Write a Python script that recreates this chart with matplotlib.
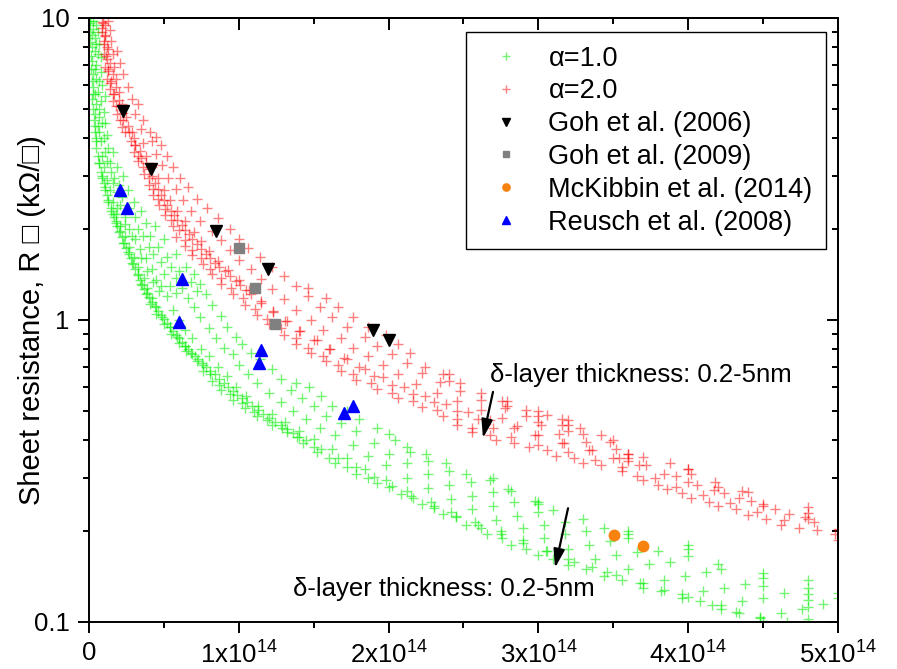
import numpy as np
import matplotlib
matplotlib.use("Agg")
import matplotlib.pyplot as plt
from matplotlib.ticker import MultipleLocator, FuncFormatter, LogLocator, NullFormatter

# -----------------------------------------------------------------------------
# Data (x in units of 1e14, sheet resistance in kOhm/sq)
# -----------------------------------------------------------------------------
X_UNIT = 1e14

alpha1_pts = [
    # near the top, steep part
    (0.01, 9.6), (0.03, 9.8), (0.05, 9.5), (0.02, 8.8), (0.04, 8.6), (0.06, 9.0),
    (0.02, 8.0), (0.04, 7.8), (0.07, 8.2), (0.02, 7.2), (0.05, 7.0), (0.08, 7.4),
    (0.03, 6.5), (0.05, 6.3), (0.08, 6.6), (0.03, 5.9), (0.06, 5.7), (0.09, 6.0),
    (0.02, 5.4), (0.05, 5.2), (0.08, 5.3), (0.11, 5.5), (0.04, 4.8), (0.07, 4.7),
    (0.10, 4.9), (0.04, 4.4), (0.07, 4.2), (0.11, 4.5), (0.05, 4.0), (0.08, 3.9),
    (0.12, 4.1), (0.05, 3.7), (0.09, 3.5), (0.13, 3.7), (0.16, 3.6),
    (0.07, 3.3), (0.10, 3.2), (0.14, 3.3), (0.19, 3.2), (0.09, 3.0), (0.12, 2.9),
    (0.17, 2.95), (0.23, 3.0), (0.11, 2.75), (0.14, 2.7), (0.19, 2.65), (0.26, 2.7),
    (0.13, 2.5), (0.16, 2.45), (0.21, 2.4), (0.30, 2.45), (0.15, 2.3), (0.18, 2.25),
    (0.24, 2.2), (0.35, 2.3), (0.18, 2.1), (0.21, 2.05), (0.27, 2.0), (0.38, 2.1),
    (0.44, 2.05), (0.20, 1.95), (0.24, 1.9), (0.31, 1.85), (0.41, 1.9), (0.50, 1.85),
    (0.23, 1.8), (0.27, 1.75), (0.34, 1.72), (0.46, 1.75), (0.26, 1.68), (0.30, 1.62),
    (0.38, 1.6), (0.52, 1.62), (0.58, 1.65), (0.29, 1.55), (0.33, 1.5), (0.42, 1.48),
    (0.55, 1.5), (0.65, 1.5),
    (0.33, 1.42), (0.37, 1.38), (0.45, 1.36), (0.58, 1.38), (0.70, 1.42), (0.35, 1.32),
    (0.39, 1.28), (0.48, 1.3), (0.62, 1.28), (0.74, 1.32), (0.38, 1.22), (0.42, 1.18),
    (0.52, 1.2), (0.66, 1.18), (0.78, 1.22), (0.41, 1.13), (0.45, 1.1), (0.56, 1.08),
    (0.70, 1.1), (0.82, 1.12), (0.45, 1.05), (0.49, 1.02), (0.60, 1.0), (0.74, 1.02),
    (0.88, 1.03), (0.50, 0.97), (0.54, 0.95), (0.64, 0.93), (0.80, 0.94), (0.92, 0.95),
    (0.55, 0.9), (0.59, 0.88), (0.69, 0.87), (0.85, 0.87), (0.98, 0.88), (0.60, 0.84),
    (0.64, 0.82), (0.75, 0.80), (0.90, 0.81), (1.02, 0.83), (0.65, 0.79), (0.69, 0.77),
    (0.80, 0.76), (0.96, 0.77), (1.08, 0.78),
    (0.72, 0.73), (0.76, 0.71), (0.86, 0.70), (1.00, 0.71), (1.14, 0.74), (0.76, 0.68),
    (0.81, 0.66), (0.92, 0.65), (1.06, 0.66), (1.22, 0.69), (0.82, 0.63), (0.87, 0.61),
    (0.98, 0.60), (1.12, 0.62), (1.28, 0.64), (1.38, 0.62), (0.88, 0.585), (0.94, 0.57),
    (1.05, 0.56), (1.20, 0.575), (1.35, 0.585), (1.47, 0.6), (0.96, 0.545), (1.02, 0.53),
    (1.13, 0.52), (1.28, 0.535), (1.42, 0.55), (1.55, 0.56), (1.04, 0.51), (1.10, 0.495),
    (1.22, 0.49), (1.36, 0.50), (1.50, 0.52), (1.62, 0.52), (1.12, 0.48), (1.19, 0.465),
    (1.31, 0.46), (1.45, 0.47), (1.58, 0.48), (1.72, 0.5), (1.22, 0.45), (1.29, 0.44),
    (1.40, 0.43), (1.54, 0.44), (1.68, 0.455), (1.80, 0.47), (1.32, 0.425), (1.39, 0.41),
    (1.50, 0.405), (1.64, 0.415), (1.78, 0.43), (1.92, 0.44), (2.0, 0.42),
    (1.43, 0.39), (1.50, 0.38), (1.62, 0.375), (1.76, 0.385), (1.90, 0.39), (2.04, 0.40),
    (2.12, 0.38), (1.52, 0.365), (1.60, 0.35), (1.72, 0.35), (1.86, 0.355), (2.00, 0.36),
    (2.14, 0.365), (2.25, 0.36), (1.64, 0.335), (1.72, 0.325), (1.84, 0.32), (1.98, 0.33),
    (2.12, 0.335), (2.26, 0.34), (2.38, 0.335), (1.78, 0.31), (1.86, 0.30), (1.98, 0.295),
    (2.12, 0.30), (2.26, 0.31), (2.40, 0.315), (2.52, 0.31), (1.92, 0.288), (2.00, 0.28),
    (2.12, 0.272), (2.26, 0.278), (2.40, 0.285), (2.55, 0.29), (2.68, 0.295), (2.08, 0.265),
    (2.16, 0.258), (2.28, 0.25), (2.42, 0.255), (2.56, 0.262), (2.70, 0.27), (2.82, 0.272),
    (2.22, 0.245), (2.30, 0.238), (2.42, 0.232), (2.56, 0.236), (2.70, 0.242), (2.84, 0.25),
    (2.98, 0.252), (2.36, 0.228), (2.45, 0.222), (2.58, 0.215), (2.72, 0.218), (2.86, 0.225),
    (3.00, 0.232), (3.10, 0.235), (2.52, 0.21), (2.62, 0.205), (2.75, 0.2), (2.90, 0.204),
    (3.04, 0.21), (3.18, 0.215), (3.30, 0.22),
    (2.66, 0.195), (2.76, 0.19), (2.90, 0.187), (3.04, 0.19), (3.18, 0.195), (3.32, 0.2),
    (3.44, 0.205), (2.82, 0.18), (2.92, 0.175), (3.06, 0.172), (3.20, 0.175), (3.34, 0.18),
    (3.48, 0.185), (3.60, 0.19), (3.00, 0.167), (3.10, 0.162), (3.24, 0.158), (3.38, 0.162),
    (3.52, 0.166), (3.66, 0.17), (3.80, 0.172), (3.20, 0.154), (3.32, 0.15), (3.46, 0.146),
    (3.60, 0.15), (3.74, 0.155), (3.88, 0.158), (4.00, 0.165), (3.44, 0.142), (3.56, 0.138),
    (3.70, 0.135), (3.84, 0.138), (3.98, 0.142), (4.12, 0.146), (4.22, 0.15), (3.70, 0.13),
    (3.82, 0.127), (3.96, 0.124), (4.10, 0.127), (4.24, 0.13), (4.38, 0.134), (4.50, 0.14),
    (3.96, 0.12), (4.08, 0.117), (4.22, 0.114), (4.36, 0.117), (4.50, 0.12), (4.64, 0.125),
    (4.80, 0.13), (4.22, 0.11), (4.34, 0.107), (4.48, 0.104), (4.62, 0.107), (4.76, 0.11),
    (4.90, 0.115), (5.0, 0.12), (4.50, 0.101), (4.66, 0.1), (4.80, 0.102),
    # vertical stacks / outliers
    (4.8, 0.138), (4.8, 0.124), (4.8, 0.118), (4.8, 0.112), (4.5, 0.145), (4.5, 0.132),
    (4.2, 0.155), (4.0, 0.18), (4.0, 0.175), (3.6, 0.2), (3.6, 0.195), (3.0, 0.25),
    (3.0, 0.245), (2.7, 0.3), (2.8, 0.275), (5.0, 0.125),
    # dense lower streak
    (0.01, 9.0), (0.015, 7.5), (0.02, 6.2), (0.03, 5.0), (0.04, 4.2), (0.06, 3.5),
    (0.08, 3.1), (0.10, 2.85), (0.12, 2.6), (0.15, 2.35), (0.17, 2.2), (0.19, 2.05),
    (0.22, 1.88), (0.25, 1.73), (0.28, 1.6), (0.31, 1.47), (0.34, 1.36), (0.37, 1.27),
    (0.40, 1.19), (0.44, 1.11), (0.48, 1.04), (0.52, 0.98), (0.56, 0.92), (0.60, 0.87),
    (0.64, 0.82), (0.68, 0.78), (0.73, 0.74), (0.78, 0.7), (0.84, 0.66), (0.90, 0.62),
    (0.96, 0.58), (1.02, 0.55), (1.09, 0.52), (1.16, 0.49), (1.24, 0.46), (1.32, 0.435),
    (1.40, 0.41),
    (0.005, 9.8), (0.01, 8.3), (0.015, 6.8), (0.025, 5.6), (0.035, 4.6), (0.05, 3.9),
    (0.07, 3.3), (0.09, 2.95), (0.11, 2.7), (0.13, 2.45), (0.16, 2.25), (0.18, 2.12),
    (0.205, 1.97), (0.235, 1.8), (0.265, 1.66), (0.295, 1.53), (0.325, 1.41), (0.355, 1.31),
    (0.385, 1.23), (0.42, 1.15), (0.46, 1.07), (0.50, 1.01), (0.54, 0.95), (0.58, 0.895),
    (0.62, 0.845), (0.66, 0.8), (0.705, 0.76), (0.755, 0.72), (0.81, 0.68), (0.87, 0.64),
    (0.93, 0.6), (0.99, 0.565), (1.055, 0.535), (1.125, 0.505), (1.2, 0.475), (1.28, 0.448),
    (1.36, 0.422), (1.45, 0.4), (1.55, 0.375), (1.66, 0.35), (1.78, 0.325), (1.9, 0.302),
    (2.02, 0.282), (2.15, 0.262), (2.3, 0.242), (2.45, 0.225), (2.6, 0.21), (2.75, 0.196),
    (2.9, 0.183), (3.05, 0.172), (3.2, 0.162), (3.36, 0.152), (3.52, 0.143), (3.68, 0.135),
    (3.84, 0.128), (4.0, 0.121), (4.16, 0.114), (4.32, 0.108), (4.48, 0.103),
    # extra fill in the upper-left part
    (0.03, 9.2), (0.05, 8.2), (0.06, 7.6), (0.04, 6.8), (0.07, 6.2), (0.04, 5.6),
    (0.07, 5.0), (0.09, 4.5), (0.06, 4.4), (0.10, 4.0), (0.11, 3.6), (0.12, 3.35),
    (0.15, 3.1), (0.16, 2.85), (0.20, 2.8), (0.22, 2.55), (0.19, 2.35), (0.27, 2.35),
    (0.31, 2.2), (0.24, 2.08), (0.33, 2.0), (0.36, 1.9), (0.29, 1.9), (0.40, 1.75),
    (0.43, 1.65), (0.35, 1.6), (0.48, 1.56), (0.39, 1.45), (0.50, 1.42), (0.60, 1.45),
    (0.43, 1.34), (0.54, 1.3), (0.68, 1.34), (0.47, 1.25), (0.58, 1.23), (0.72, 1.25),
]

alpha2_pts = [
    (0.09, 9.7), (0.11, 9.5), (0.13, 9.8), (0.09, 9.0), (0.11, 8.7), (0.14, 9.1),
    (0.10, 8.2), (0.12, 8.0), (0.15, 8.4), (0.10, 7.6), (0.12, 7.3), (0.16, 7.6),
    (0.19, 7.8), (0.11, 6.9), (0.13, 6.7), (0.17, 6.9), (0.21, 7.1), (0.12, 6.3),
    (0.14, 6.1), (0.18, 6.3), (0.23, 6.5), (0.14, 5.8), (0.16, 5.6), (0.20, 5.7),
    (0.26, 5.9), (0.16, 5.3), (0.18, 5.1), (0.22, 5.2), (0.29, 5.4), (0.33, 5.2),
    (0.19, 4.8), (0.21, 4.6), (0.25, 4.7), (0.31, 4.8), (0.36, 4.6), (0.22, 4.35),
    (0.24, 4.2), (0.29, 4.2), (0.35, 4.3), (0.41, 4.2), (0.45, 4.05),
    (0.28, 3.9), (0.31, 3.8), (0.36, 3.85), (0.42, 3.9), (0.48, 3.8),
    (0.30, 3.6), (0.33, 3.5), (0.38, 3.5), (0.45, 3.55), (0.52, 3.5),
    (0.33, 3.35), (0.36, 3.22), (0.42, 3.2), (0.49, 3.25), (0.56, 3.2),
    (0.37, 3.05), (0.40, 2.95), (0.46, 2.95), (0.53, 2.95), (0.61, 2.95),
    (0.40, 2.8), (0.43, 2.72), (0.50, 2.7), (0.58, 2.72), (0.66, 2.75),
    (0.43, 2.6), (0.46, 2.52), (0.54, 2.5), (0.63, 2.5), (0.72, 2.52),
    (0.47, 2.4), (0.51, 2.33), (0.59, 2.3), (0.68, 2.3), (0.79, 2.35),
    (0.51, 2.22), (0.55, 2.15), (0.64, 2.12), (0.74, 2.13), (0.86, 2.17),
    (0.56, 2.05), (0.60, 1.99), (0.70, 1.96), (0.82, 1.97), (0.94, 2.0),
    (0.58, 1.88), (0.64, 1.84), (0.75, 1.82), (0.88, 1.84), (1.00, 1.86), (0.64, 1.76),
    (0.69, 1.71), (0.80, 1.69), (0.94, 1.7), (1.06, 1.73), (0.69, 1.64), (0.75, 1.6),
    (0.86, 1.57), (1.00, 1.58), (1.14, 1.62), (0.76, 1.53), (0.81, 1.48), (0.93, 1.46),
    (1.08, 1.47), (1.22, 1.5), (0.82, 1.42), (0.88, 1.38), (1.00, 1.36), (1.15, 1.37),
    (1.30, 1.4), (0.88, 1.32), (0.95, 1.28), (1.07, 1.26), (1.22, 1.27), (1.38, 1.3),
    (1.46, 1.28), (0.96, 1.22), (1.03, 1.18), (1.15, 1.16), (1.30, 1.17), (1.46, 1.2),
    (1.58, 1.18), (1.04, 1.12), (1.11, 1.09), (1.23, 1.07), (1.38, 1.08), (1.54, 1.1),
    (1.66, 1.1), (1.12, 1.04), (1.19, 1.01), (1.32, 0.99), (1.48, 1.0), (1.62, 1.02),
    (1.76, 1.02), (1.20, 0.97), (1.28, 0.94), (1.41, 0.92), (1.56, 0.93), (1.72, 0.95),
    (1.86, 0.95),
    (1.30, 0.89), (1.38, 0.87), (1.52, 0.86), (1.68, 0.87), (1.84, 0.88), (1.98, 0.89),
    (1.38, 0.83), (1.46, 0.81), (1.60, 0.8), (1.76, 0.81), (1.92, 0.82), (2.06, 0.83),
    (1.48, 0.78), (1.56, 0.76), (1.70, 0.75), (1.86, 0.76), (2.02, 0.77), (2.14, 0.78),
    (1.58, 0.73), (1.66, 0.71), (1.80, 0.7), (1.96, 0.71), (2.12, 0.72), (2.24, 0.7),
    (1.68, 0.68), (1.76, 0.66), (1.90, 0.65), (2.06, 0.66), (2.22, 0.67), (2.36, 0.66),
    (1.78, 0.635), (1.88, 0.62), (2.02, 0.61), (2.18, 0.615), (2.34, 0.625), (2.48, 0.62),
    (1.92, 0.59), (2.02, 0.575), (2.16, 0.57), (2.32, 0.575), (2.48, 0.58), (2.62, 0.575),
    (2.06, 0.55), (2.16, 0.54), (2.30, 0.535), (2.46, 0.54), (2.62, 0.545), (2.76, 0.54),
    (2.22, 0.515), (2.32, 0.505), (2.46, 0.5), (2.62, 0.505), (2.78, 0.51), (2.92, 0.505),
    (2.36, 0.48), (2.46, 0.47), (2.60, 0.47), (2.76, 0.475), (2.92, 0.48), (3.06, 0.485),
    (3.16, 0.47), (2.46, 0.45), (2.56, 0.44), (2.70, 0.44), (2.86, 0.445), (3.02, 0.45),
    (3.16, 0.45), (3.28, 0.44), (2.56, 0.425), (2.68, 0.415), (2.82, 0.41), (2.98, 0.415),
    (3.14, 0.42), (3.30, 0.42), (3.42, 0.415), (2.72, 0.4), (2.84, 0.39), (3.00, 0.385),
    (3.16, 0.39), (3.32, 0.395), (3.48, 0.395), (2.94, 0.38), (3.06, 0.37), (3.20, 0.365),
    (3.36, 0.37), (3.52, 0.375), (3.60, 0.36), (3.12, 0.355), (3.24, 0.348), (3.38, 0.344),
    (3.54, 0.348), (3.70, 0.352), (3.30, 0.335), (3.42, 0.33), (3.56, 0.325), (3.72, 0.33),
    (3.88, 0.335), (4.00, 0.32),
    (3.56, 0.315), (3.66, 0.305), (3.78, 0.3), (3.92, 0.305), (4.02, 0.31), (3.70, 0.295),
    (3.80, 0.285), (3.92, 0.28), (4.06, 0.284), (4.18, 0.29), (3.86, 0.275), (3.96, 0.268),
    (4.10, 0.264), (4.24, 0.268), (4.36, 0.272), (4.02, 0.258), (4.14, 0.25), (4.28, 0.248),
    (4.42, 0.252), (4.20, 0.242), (4.32, 0.236), (4.46, 0.232), (4.58, 0.236), (4.40, 0.226),
    (4.52, 0.22), (4.64, 0.218), (4.78, 0.222), (4.62, 0.21), (4.74, 0.205), (4.86, 0.202),
    (4.80, 0.24), (4.80, 0.23), (4.80, 0.22), (4.5, 0.245), (4.2, 0.28), (4.0, 0.32),
    (3.6, 0.36), (3.6, 0.35), (3.6, 0.34), (5.0, 0.187), (4.98, 0.195),
    # vertical stacks
    (2.4, 0.66), (2.4, 0.63), (2.79, 0.54), (2.79, 0.52), (3.0, 0.5), (3.0, 0.48),
    (3.0, 0.46), (3.2, 0.466), (3.2, 0.45), (3.2, 0.43), (3.5, 0.40), (4.4, 0.27),
    # dense lower streak
    (0.09, 9.3), (0.10, 8.4), (0.115, 7.5), (0.13, 6.8), (0.15, 6.2), (0.17, 5.6),
    (0.20, 5.1), (0.23, 4.6), (0.27, 4.2), (0.31, 3.8), (0.35, 3.45), (0.40, 3.15),
    (0.44, 2.85), (0.48, 2.6), (0.52, 2.4), (0.57, 2.22), (0.62, 2.06), (0.67, 1.92),
    (0.72, 1.78), (0.78, 1.66), (0.84, 1.55), (0.91, 1.45), (0.98, 1.35), (1.05, 1.26),
    (0.095, 9.6), (0.11, 8.8), (0.125, 7.9), (0.14, 7.1), (0.16, 6.5), (0.18, 5.9),
    (0.20, 5.35), (0.23, 4.85), (0.26, 4.4), (0.30, 4.0), (0.34, 3.62), (0.38, 3.3),
    (0.42, 3.0), (0.46, 2.72), (0.50, 2.5), (0.545, 2.3), (0.59, 2.14), (0.64, 1.99),
    (0.69, 1.85), (0.75, 1.72), (0.81, 1.6), (0.87, 1.5), (0.94, 1.4), (1.01, 1.31),
    (1.08, 1.22), (1.15, 1.14), (1.23, 1.06), (1.31, 0.99), (1.40, 0.92), (1.50, 0.86),
    (1.61, 0.8), (1.72, 0.74), (1.84, 0.69), (1.96, 0.645), (2.10, 0.6), (2.24, 0.56),
    (2.38, 0.525), (2.53, 0.495), (2.68, 0.465), (2.84, 0.44), (3.0, 0.415), (3.17, 0.39),
    (3.34, 0.37), (3.50, 0.35), (3.67, 0.33), (3.84, 0.31), (4.0, 0.29), (4.17, 0.273),
    (4.34, 0.258), (4.50, 0.243), (4.67, 0.228), (4.84, 0.215), (5.0, 0.203),
]

goh2006_x = [0.227, 0.414, 0.848, 1.195, 1.896, 2.003]
goh2006_y = [4.92, 3.16, 1.97, 1.476, 0.927, 0.859]

goh2009_x = [1.001, 1.108, 1.242]
goh2009_y = [1.73, 1.28, 0.97]

mckibbin_x = [3.505, 3.698]
mckibbin_y = [0.194, 0.179]

reusch_x = [0.207, 0.254, 0.621, 0.601, 1.148, 1.135, 1.702, 1.762]
reusch_y = [2.69, 2.35, 1.37, 0.985, 0.796, 0.721, 0.492, 0.519]

x_tick_vals = [0, 1, 2, 3, 4, 5]
y_tick_vals = [0.1, 1, 10]
y_tick_labels = ["0.1", "1", "10"]

note_text = "\u03b4-layer thickness: 0.2-5nm"

# -----------------------------------------------------------------------------
# Style
# -----------------------------------------------------------------------------
plt.rcParams.update({
    "font.family": ["Liberation Sans", "DejaVu Sans"],
    "mathtext.fontset": "custom",
    "mathtext.rm": "Liberation Sans",
    "mathtext.it": "Liberation Sans:italic",
    "mathtext.bf": "Liberation Sans:bold",
    "font.size": 18.5,
    "axes.linewidth": 1.4,
})

fig = plt.figure(figsize=(8.97, 6.69), dpi=100)
ax = fig.add_axes([0.0992, 0.0703, 0.835, 0.9028])

g = np.array(alpha1_pts)
r = np.array(alpha2_pts)

ax.plot(g[:, 0] * X_UNIT, g[:, 1], "+", ls="none", color="#00ee00", alpha=0.55,
        ms=7.5, mew=1.0, label="\u03b1=1.0", zorder=2)
ax.plot(r[:, 0] * X_UNIT, r[:, 1], "+", ls="none", color="#ff0000", alpha=0.5,
        ms=7.5, mew=1.0, label="\u03b1=2.0", zorder=2)
ax.plot(np.array(goh2006_x) * X_UNIT, goh2006_y, "v", ls="none", color="black",
        ms=8.5, label="Goh et al. (2006)", zorder=4)
ax.plot(np.array(goh2009_x) * X_UNIT, goh2009_y, "s", ls="none", color="#808080",
        ms=6.5, label="Goh et al. (2009)", zorder=4)
ax.plot(np.array(mckibbin_x) * X_UNIT, mckibbin_y, "o", ls="none", color="#f7820f",
        ms=7.5, label="McKibbin et al. (2014)", zorder=4)
ax.plot(np.array(reusch_x) * X_UNIT, reusch_y, "^", ls="none", color="#0000ff",
        ms=8.5, label="Reusch et al. (2008)", zorder=4)

ax.set_xlim(0, 5e14)
ax.set_yscale("log")
ax.set_ylim(0.1, 10)

ax.set_xticks([v * X_UNIT for v in x_tick_vals])
ax.xaxis.set_minor_locator(MultipleLocator(0.5e14))
ax.xaxis.set_major_formatter(FuncFormatter(
    lambda v, p: "0" if v == 0 else r"%dx10$^{14}$" % round(v / X_UNIT)))
ax.set_yticks(y_tick_vals, y_tick_labels)
ax.yaxis.set_minor_locator(LogLocator(base=10, subs=np.arange(2, 10)))
ax.yaxis.set_minor_formatter(NullFormatter())

ax.tick_params(which="both", direction="out", top=False, right=False, width=1.4,
               labelsize=18.5)
ax.tick_params(which="major", length=8, pad=6)
ax.tick_params(which="minor", length=4.5)

top = ax.secondary_xaxis("top")
top.xaxis.set_major_locator(MultipleLocator(1e14))
top.xaxis.set_minor_locator(MultipleLocator(0.5e14))
top.tick_params(which="both", direction="in", labeltop=False, width=1.4)
top.tick_params(which="major", length=8.5)
top.tick_params(which="minor", length=4.5)

right = ax.secondary_yaxis("right")
right.yaxis.set_major_locator(LogLocator(base=10))
right.yaxis.set_minor_locator(LogLocator(base=10, subs=np.arange(2, 10)))
right.yaxis.set_major_formatter(NullFormatter())
right.yaxis.set_minor_formatter(NullFormatter())
right.tick_params(which="both", direction="in", labelright=False, width=1.4)
right.tick_params(which="major", length=8)
right.tick_params(which="minor", length=4.5)

ax.set_ylabel("Sheet resistance, R \u25a1 (k\u03a9/\u25a1)", fontsize=21)
ax.yaxis.set_label_coords(-0.0574, 0.5)

# annotations
ax.text(2.677e14, 0.658, note_text, fontsize=18.5, va="center", ha="left")
ax.annotate("", xy=(2.63e14, 0.406), xytext=(2.697e14, 0.578),
            arrowprops=dict(arrowstyle="-|>,head_length=0.6,head_width=0.18",
                            color="black", lw=1.6, shrinkA=0, shrinkB=0))
ax.text(1.362e14, 0.1285, note_text, fontsize=18.5, va="center", ha="left")
ax.annotate("", xy=(3.111e14, 0.151), xytext=(3.198e14, 0.238),
            arrowprops=dict(arrowstyle="-|>,head_length=0.6,head_width=0.18",
                            color="black", lw=1.6, shrinkA=0, shrinkB=0))

leg = ax.legend(loc="upper right", bbox_to_anchor=(0.921, 0.952),
                bbox_transform=fig.transFigure, borderaxespad=0, fontsize=19.5,
                frameon=True, fancybox=False, edgecolor="black", framealpha=1,
                borderpad=0.5, handlelength=1.96, handletextpad=0.6,
                labelspacing=0.25, markerscale=0.7)
leg.get_frame().set_linewidth(1.0)

fig.savefig("out.png", dpi=100)
